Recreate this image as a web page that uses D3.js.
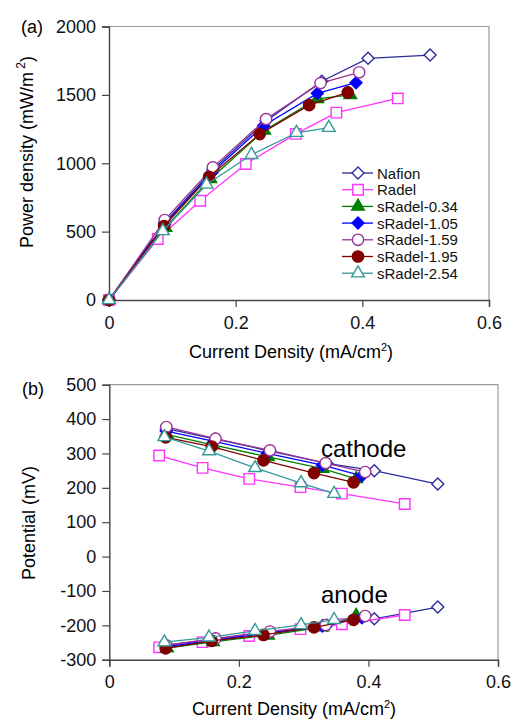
<!DOCTYPE html>
<html>
<head>
<meta charset="utf-8">
<script src="https://cdn.jsdelivr.net/npm/d3@7/dist/d3.min.js"></script>
<style>
  html, body { margin: 0; padding: 0; background: #fff; }
  svg { display: block; font-family: Arial, "Liberation Sans", sans-serif; }
</style>
</head>
<body>
<svg id="chart" width="512" height="719"></svg>
<script>
// Fuel cell power density (a) and electrode potentials (b) vs current density.
const names = ['Nafion', 'Radel', 'sRadel-0.34', 'sRadel-1.05', 'sRadel-1.59', 'sRadel-1.95', 'sRadel-2.54'];

// current density (mA/cm2), first entry is the open circuit point
const xNafion = [0, 0.088, 0.164, 0.248, 0.336, 0.409, 0.507];
const xRadel  = [0, 0.077, 0.144, 0.216, 0.295, 0.359, 0.456];
const x034    = [0, 0.089, 0.160, 0.245, 0.329, 0.381];
const x105    = [0, 0.088, 0.162, 0.244, 0.329, 0.390];
const x159    = [0, 0.088, 0.164, 0.248, 0.334, 0.395];
const x195    = [0, 0.087, 0.158, 0.238, 0.316, 0.377];
const x254    = [0, 0.085, 0.154, 0.225, 0.296, 0.347];

// power density (mW/m2)
const pNafion = [0, 565, 955, 1310, 1600, 1767, 1791];
const pRadel  = [0, 446, 726, 995, 1215, 1370, 1474];
const p034    = [0, 530, 885, 1240, 1470, 1500];
const p105    = [0, 555, 930, 1274, 1511, 1589];
const p159    = [0, 585, 970, 1323, 1586, 1665];
const p195    = [0, 541, 901, 1213, 1425, 1518];
const p254    = [0, 505, 845, 1062, 1223, 1260];

// cathode potential (mV), skips the open circuit point
const cNafion = [372, 342, 307, 271, 250, 211];
const cRadel  = [294, 258, 226, 202, 183, 153];
const c034    = [355, 325, 290, 256, 226];
const c105    = [365, 335, 300, 266, 235];
const c159    = [377, 343, 309, 272, 246];
const c195    = [347, 320, 280, 243, 216];
const c254    = [348, 307, 258, 214, 183];

// anode potential (mV)
const aNafion = [-258, -240, -220, -200, -181, -147];
const aRadel  = [-264, -249, -231, -211, -197, -170];
const a034    = [-266, -248, -229, -205, -172];
const a105    = [-262, -243, -223, -202, -178];
const a159    = [-258, -238, -218, -199, -173];
const a195    = [-267, -245, -228, -206, -184];
const a254    = [-249, -235, -216, -199, -184];

const xTicks = [0, 0.2, 0.4, 0.6];
const powerTicks = [0, 500, 1000, 1500, 2000];
const potentialTicks = [-300, -200, -100, 0, 100, 200, 300, 400, 500];

const xs = [xNafion, xRadel, x034, x105, x159, x195, x254];
const ps = [pNafion, pRadel, p034, p105, p159, p195, p254];
const cs = [cNafion, cRadel, c034, c105, c159, c195, c254];
const as = [aNafion, aRadel, a034, a105, a159, a195, a254];

// marker look per series
const styles = [
  { color: '#2B2B9C', shape: 'diamond',  fill: '#fff' },
  { color: '#FF33FF', shape: 'square',   fill: '#fff' },
  { color: '#008000', shape: 'triangle', fill: '#008000' },
  { color: '#0000FF', shape: 'diamond',  fill: '#0000FF' },
  { color: '#993399', shape: 'circle',   fill: '#fff' },
  { color: '#800000', shape: 'circle',   fill: '#800000' },
  { color: '#339999', shape: 'triangle', fill: '#fff' },
];

function markerPath(shape) {
  if (shape === 'square') return d3.symbol(d3.symbolSquare, 110)();
  if (shape === 'circle') return d3.symbol(d3.symbolCircle, 100)();
  if (shape === 'triangle') return d3.symbol(d3.symbolTriangle, 70)();
  // diamond = square turned by 45 degrees
  const r = 6;
  return `M0,${-r}L${r},0L0,${r}L${-r},0Z`;
}

const svg = d3.select('#chart');
const line = d3.line();

function drawFrame(g, x, y, yTicks, box) {
  // light top / right edges
  g.append('path')
    .attr('d', `M${box.l},${box.t}H${box.r}V${box.b}`)
    .attr('fill', 'none').attr('stroke', '#9a9a9a').attr('stroke-width', 1.2);

  const yAxis = g.append('g').attr('transform', `translate(${box.l},0)`)
    .call(d3.axisLeft(y).tickValues(yTicks).tickSize(7).tickPadding(6).tickFormat((d) => String(d)));
  const xAxis = g.append('g').attr('transform', `translate(0,${box.b})`)
    .call(d3.axisBottom(x).tickValues(xTicks).tickSize(7).tickPadding(9)
      .tickFormat((d) => d === 0 ? '0' : d3.format('.1f')(d)));
  [xAxis, yAxis].forEach((a) => {
    a.select('.domain').attr('stroke', '#444').attr('stroke-width', 1.4);
    a.selectAll('.tick line').attr('stroke', '#444').attr('stroke-width', 1.2);
    a.selectAll('.tick text').attr('fill', '#111').style('font-size', '18px');
  });
}

function drawSeries(g, x, y, xv, yv, st) {
  const pts = yv.map((v, i) => [x(xv[i]), y(v)]);
  g.append('path').attr('d', line(pts))
    .attr('fill', 'none').attr('stroke', st.color).attr('stroke-width', 1.3);
  g.selectAll(null).data(pts).enter().append('path')
    .attr('d', markerPath(st.shape))
    .attr('transform', (p) => `translate(${p[0]},${p[1]})`)
    .attr('fill', st.fill).attr('stroke', st.color).attr('stroke-width', 1.4);
}

// ---- panel (a)
const boxA = { l: 109, r: 489, t: 26.5, b: 300 };
const xA = d3.scaleLinear().domain([0, 0.6]).range([boxA.l, boxA.r]);
const yA = d3.scaleLinear().domain([0, 2000]).range([boxA.b, boxA.t]);
const gA = svg.append('g');
drawFrame(gA, xA, yA, powerTicks, boxA);
names.forEach((n, i) => drawSeries(gA, xA, yA, xs[i], ps[i], styles[i]));

gA.append('text').attr('x', 21).attr('y', 33).style('font-size', '18px').text('(a)');
const titleA = gA.append('text')
  .attr('transform', 'translate(33,152) rotate(-90)')
  .attr('text-anchor', 'middle').style('font-size', '18px');
titleA.append('tspan').text('Power density (mW/m');
titleA.append('tspan').attr('dy', -8).style('font-size', '12px').text('\u00a02');
titleA.append('tspan').attr('dy', 8).text(')');

function xTitle(g, cx, cy) {
  const t = g.append('text').attr('x', cx).attr('y', cy)
    .attr('text-anchor', 'middle').style('font-size', '18px');
  t.append('tspan').text('Current Density (mA/cm');
  t.append('tspan').attr('dy', -7).style('font-size', '11px').text('2');
  t.append('tspan').attr('dy', 7).text(')');
}
xTitle(gA, 291, 358);

// legend
const legend = gA.append('g').attr('transform', 'translate(342,173)');
names.forEach((n, i) => {
  const row = legend.append('g').attr('transform', `translate(0,${i * 16.7})`);
  row.append('line').attr('x1', 0).attr('x2', 31)
    .attr('stroke', styles[i].color).attr('stroke-width', 1.3);
  row.append('path').attr('d', markerPath(styles[i].shape))
    .attr('transform', 'translate(16,0)')
    .attr('fill', styles[i].fill).attr('stroke', styles[i].color).attr('stroke-width', 1.4);
  row.append('text').attr('x', 35).attr('y', 5.5)
    .style('font-size', '15px').attr('fill', '#111').text(n);
});

// ---- panel (b)
const boxB = { l: 109.3, r: 498, t: 384.7, b: 659.7 };
const xB = d3.scaleLinear().domain([0, 0.6]).range([boxB.l, boxB.r]);
const yB = d3.scaleLinear().domain([-300, 500]).range([boxB.b, boxB.t]);
const gB = svg.append('g');
drawFrame(gB, xB, yB, potentialTicks, boxB);
names.forEach((n, i) => drawSeries(gB, xB, yB, xs[i].slice(1), cs[i], styles[i]));
names.forEach((n, i) => drawSeries(gB, xB, yB, xs[i].slice(1), as[i], styles[i]));

gB.append('text').attr('x', 22).attr('y', 395).style('font-size', '18px').text('(b)');
gB.append('text').attr('transform', 'translate(35,523) rotate(-90)')
  .attr('text-anchor', 'middle').style('font-size', '18px').text('Potential (mV)');
gB.append('text').attr('x', 321).attr('y', 457).style('font-size', '24px').text('cathode');
gB.append('text').attr('x', 321).attr('y', 603).style('font-size', '24px').text('anode');
xTitle(gB, 294, 715);
</script>
</body>
</html>
